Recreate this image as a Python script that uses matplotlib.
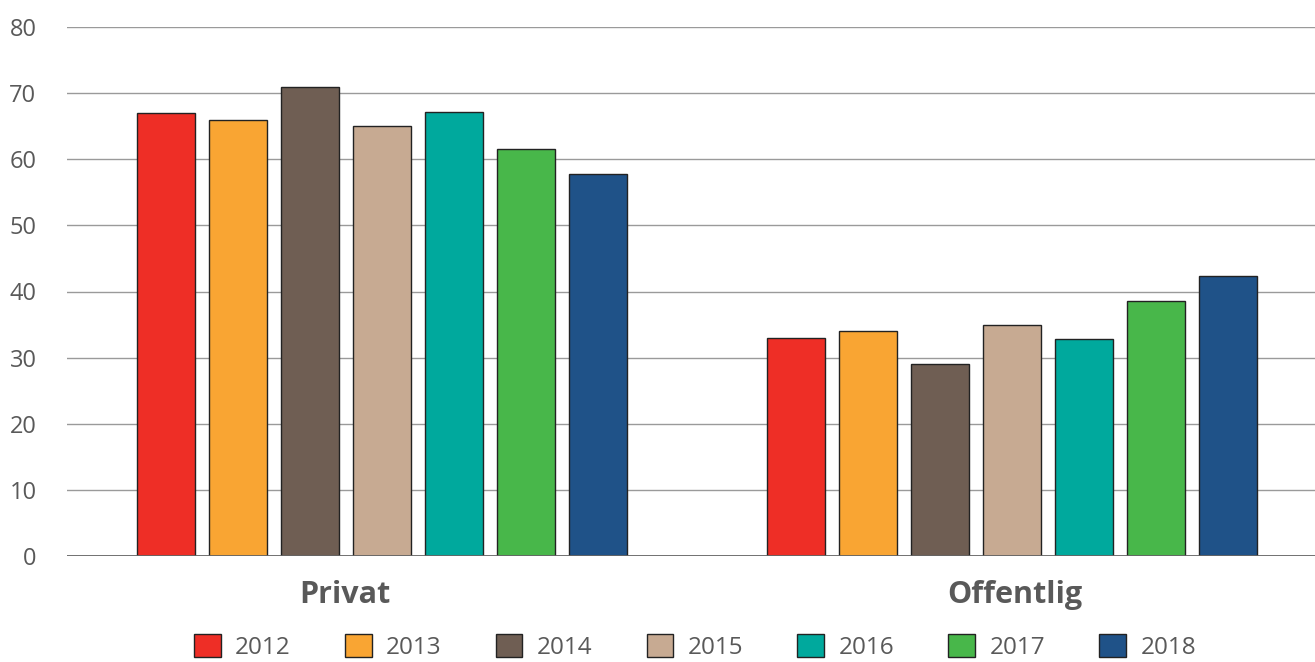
import numpy as np
import matplotlib
matplotlib.use("Agg")
import matplotlib.pyplot as plt
from matplotlib.patches import Patch

# data
groups = ["Privat", "Offentlig"]
years = ["2012", "2013", "2014", "2015", "2016", "2017", "2018"]
privat = [67, 66, 71, 65, 67.2, 61.5, 57.8]
offentlig = [33, 34, 29, 35, 32.8, 38.5, 42.3]
colors = ["#EE2E26", "#F9A533", "#6F5E53", "#C7AA92", "#00A99D", "#48B74A", "#1F5288"]

plt.rcParams["font.family"] = ["Open Sans", "DejaVu Sans"]
text_gray = "#595959"

fig = plt.figure(figsize=(13.15, 6.62), dpi=100)
ax = fig.add_axes([67 / 1315, 1 - 556 / 662, 1 - 67 / 1315, (556 - 27) / 662])

group_offset = [0.0, 8.75]
width = 0.806
for i, y in enumerate(years):
    vals = [privat[i], offentlig[i]]
    xs = [g + i for g in group_offset]
    ax.bar(xs, vals, width=width, color=colors[i], edgecolor="#222222",
           linewidth=1.0, zorder=3, label=y)

ax.set_xlim(-1.375, 15.96)
ax.set_ylim(0, 80)
ax.set_yticks(np.arange(0, 81, 10))
ax.yaxis.grid(True, color="#9a9a9a", linewidth=1.0, zorder=0)
ax.axhline(0, color="#666666", linewidth=2.0, zorder=4)
for s in ax.spines.values():
    s.set_visible(False)
ax.tick_params(axis="y", length=0, pad=22, labelsize=17, labelcolor=text_gray)
ax.set_xticks([])

# group labels
label_x = [2.49, 11.79]
for lx, g in zip(label_x, groups):
    ax.text(lx, -5.9, g, ha="center", va="center", fontsize=22,
            fontweight="bold", color=text_gray, transform=ax.transData)

handles = [Patch(facecolor=c, edgecolor="#222222", linewidth=1.0) for c in colors]
fig.legend(handles, years, loc="center", ncol=7, frameon=False,
           bbox_to_anchor=(695 / 1315, 0.023), fontsize=17.5,
           labelcolor=text_gray, handlelength=1.1, handleheight=1.1,
           handletextpad=0.6, columnspacing=2.22, borderaxespad=0)

fig.savefig("out.png", dpi=100)
